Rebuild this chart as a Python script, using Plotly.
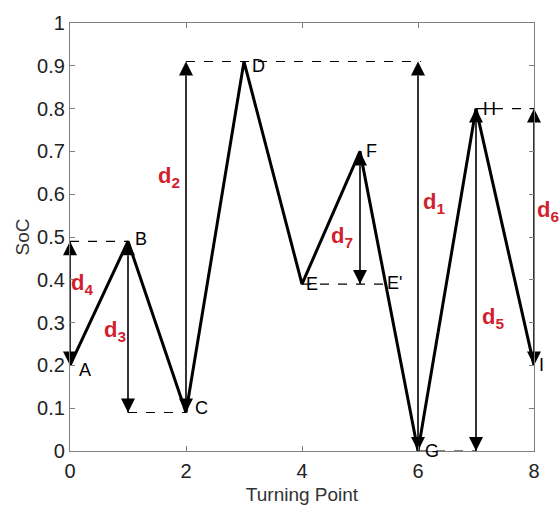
import plotly.graph_objects as go

# Turning points of the SoC profile
turning_point = [0, 1, 2, 3, 4, 5, 6, 7, 8]
soc = [0.2, 0.49, 0.09, 0.91, 0.39, 0.7, 0.0, 0.8, 0.2]
point_names = ["A", "B", "C", "D", "E", "F", "G", "H", "I"]

# Depth-of-discharge ranges: x position, low SoC, high SoC
range_names = ["d<sub>1</sub>", "d<sub>2</sub>", "d<sub>3</sub>", "d<sub>4</sub>",
               "d<sub>5</sub>", "d<sub>6</sub>", "d<sub>7</sub>"]
range_x = [6, 2, 1, 0, 7, 8, 5]
range_low = [0.0, 0.09, 0.09, 0.2, 0.0, 0.2, 0.39]
range_high = [0.91, 0.91, 0.49, 0.49, 0.8, 0.8, 0.7]

# Reference level lines: (x0, x1, y)
level_x0 = [2, 1, 0, 6, 7, 4]
level_x1 = [6.05, 2, 1, 7, 8, 5.44]
level_y = [0.91, 0.09, 0.49, 0.0, 0.8, 0.39]

RED = "#d21f2f"
FONT = "Liberation Sans, Arial, sans-serif"

fig = go.Figure()
fig.add_trace(go.Scatter(
    x=turning_point, y=soc, mode="lines",
    line=dict(color="black", width=3), showlegend=False, hoverinfo="skip",
))

# Double-headed range arrows (arrow symbols put their tip on the point)
for xv, lo, hi in zip(range_x, range_low, range_high):
    fig.add_trace(go.Scatter(
        x=[xv, xv], y=[lo, hi], mode="lines+markers",
        line=dict(color="black", width=1.6),
        marker=dict(symbol=["arrow-down", "arrow-up"], size=14, color="black",
                    line=dict(width=0)),
        showlegend=False, hoverinfo="skip", cliponaxis=False,
    ))

shapes = []
for x0, x1, y in zip(level_x0, level_x1, level_y):
    shapes.append(dict(type="line", xref="x", yref="y", x0=x0, x1=x1, y0=y, y1=y,
                       line=dict(color="black", width=1.2, dash="dash")))

# Range labels: anchored at the arrow, shifted sideways in pixels
label_xshift = [16, -17, -13, 12, 17, 14, -18]
label_y = [0.58, 0.64, 0.28, 0.39, 0.31, 0.56, 0.5]
annotations = []
for name, xv, yv, dx in zip(range_names, range_x, label_y, label_xshift):
    annotations.append(dict(
        x=xv, y=yv, xref="x", yref="y", xshift=dx, text="<b>" + name + "</b>",
        showarrow=False, font=dict(family=FONT, size=22, color=RED),
    ))

# Point letters placed just to the right of each turning point
label_dx = [0.25, 0.22, 0.27, 0.25, 0.18, 0.2, 0.24, 0.24, 0.12]
label_dy = [-0.01, 0.005, 0.01, -0.01, 0.0, 0.0, 0.0, 0.0, 0.0]
for name, xv, yv, dx, dy in zip(point_names, turning_point, soc, label_dx, label_dy):
    annotations.append(dict(
        x=min(xv + dx, 8), y=yv + dy, xref="x", yref="y", text=name, showarrow=False,
        xshift=7 if xv + dx > 8 else 0,
        font=dict(family=FONT, size=18, color="black"),
    ))
annotations.append(dict(
    x=5.6, y=0.393, xref="x", yref="y", text="E'", showarrow=False,
    font=dict(family=FONT, size=18, color="black"),
))

axis_common = dict(
    showline=True, linecolor="#7f7f7f", linewidth=1.3, mirror="ticks",
    ticks="inside", ticklen=5, tickcolor="#7f7f7f", showgrid=False, zeroline=False,
    tickfont=dict(family=FONT, size=20, color="#222"),
    title_font=dict(family=FONT, size=19, color="#333"),
)

fig.update_xaxes(range=[0, 8], tickvals=[0, 2, 4, 6, 8], title_text="Turning Point",
                 title_standoff=6, ticklabelstandoff=2, **axis_common)
fig.update_yaxes(range=[0, 1], tickvals=[i / 10 for i in range(11)],
                 ticktext=["0", "0.1", "0.2", "0.3", "0.4", "0.5", "0.6", "0.7", "0.8", "0.9", "1"],
                 title_text="SoC", title_standoff=2, **axis_common)

fig.update_layout(
    width=560, height=513, margin=dict(l=70, r=26, t=16, b=61),
    plot_bgcolor="white", paper_bgcolor="white",
    shapes=shapes, annotations=annotations, showlegend=False,
)

fig.write_html("out.html")
